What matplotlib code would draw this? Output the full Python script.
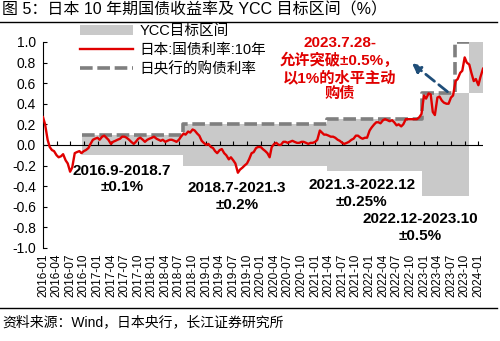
import pandas as pd
import matplotlib
matplotlib.use('Agg')
import matplotlib.pyplot as plt
from matplotlib.patches import Patch
from matplotlib.lines import Line2D

plt.rcParams['font.family'] = ['Liberation Sans', 'Noto Sans CJK SC']
plt.rcParams['axes.unicode_minus'] = False

# JGB 10y yield (%), readings on the 1st of each month
start_dates = pd.date_range('2016-01-01', '2024-02-01', freq='MS')
start_vals = [
    0.27, 0.05, -0.05, -0.10, -0.11, -0.15, -0.26, -0.08, -0.06, -0.06, -0.03, 0.05,
    0.07, 0.08, 0.07, 0.01, 0.04, 0.06, 0.08, 0.05, 0.01, 0.06, 0.05, 0.05,
    0.07, 0.06, 0.04, 0.03, 0.05, 0.04, 0.05, 0.11, 0.13, 0.15, 0.11, 0.04,
    0.00, -0.02, -0.06, -0.05, -0.08, -0.14, -0.15, -0.27, -0.22, -0.18, -0.08, -0.03,
    -0.02, -0.06, -0.12, 0.01, 0.00, 0.03, 0.02, 0.04, 0.02, 0.03, 0.02, 0.02,
    0.03, 0.14, 0.10, 0.09, 0.08, 0.05, 0.02, 0.02, 0.05, 0.09, 0.07, 0.07,
    0.14, 0.20, 0.22, 0.24, 0.24, 0.24, 0.19, 0.18, 0.25, 0.25, 0.25, 0.27,
    0.48, 0.50, 0.32, 0.46, 0.43, 0.40, 0.46, 0.62, 0.70, 0.85, 0.78, 0.62,
    0.58, 0.74,
]
# readings on the 15th of each month
mid_dates = pd.date_range('2016-01-01', '2024-01-01', freq='MS') + pd.Timedelta(days=14)
mid_vals = [
    0.20, -0.02, -0.06, -0.12, -0.09, -0.18, -0.22, -0.07, -0.08, -0.05, 0.01, 0.06,
    0.05, 0.09, 0.05, 0.03, 0.05, 0.08, 0.07, 0.03, 0.03, 0.07, 0.03, 0.06,
    0.08, 0.05, 0.05, 0.04, 0.05, 0.03, 0.08, 0.10, 0.12, 0.14, 0.09, 0.02,
    0.01, -0.03, -0.08, -0.04, -0.10, -0.12, -0.18, -0.24, -0.20, -0.14, -0.07, -0.02,
    -0.04, -0.08, -0.02, 0.02, 0.00, 0.03, 0.03, 0.03, 0.02, 0.03, 0.01, 0.02,
    0.05, 0.12, 0.10, 0.08, 0.07, 0.04, 0.01, 0.03, 0.06, 0.09, 0.06, 0.07,
    0.17, 0.22, 0.21, 0.25, 0.23, 0.22, 0.20, 0.20, 0.25, 0.25, 0.25, 0.30,
    0.45, 0.49, 0.29, 0.47, 0.41, 0.40, 0.48, 0.64, 0.72, 0.80, 0.70, 0.64,
    0.66,
]

# YCC target band
ycc_start = pd.to_datetime(['2016-09-21', '2018-07-31', '2021-03-19', '2022-12-20', '2023-10-31'])
ycc_end = pd.to_datetime(['2018-07-31', '2021-03-19', '2022-12-20', '2023-10-31', '2024-01-31'])
ycc_low = [-0.1, -0.2, -0.25, -0.5, 0.5]
ycc_high = [0.1, 0.2, 0.25, 0.5, 1.0]

# BOJ fixed-rate purchase level
boj_dates = pd.to_datetime(['2016-09-21', '2018-07-31', '2021-03-19', '2022-12-20', '2023-07-28', '2023-10-31'])
boj_rate = [0.1, 0.2, 0.25, 0.5, 1.0, 1.0]

tick_dates = pd.date_range('2016-01-01', '2024-01-01', freq='QS')

jgb = pd.concat([pd.Series(start_vals, index=start_dates),
                 pd.Series(mid_vals, index=mid_dates)]).sort_index()

fig = plt.figure(figsize=(5, 3.41), dpi=100)
ax = fig.add_axes([0.086, 0.273, 0.88, 0.604])

gray = '#c9c9c9'
for s, e, lo, hi in zip(ycc_start, ycc_end, ycc_low, ycc_high):
    ax.fill_between([s, e], lo, hi, color=gray, lw=0, zorder=1)

ax.step(boj_dates, boj_rate, where='post', color='#7f7f7f', lw=2.6,
        dashes=(3.5, 1.3), zorder=2)
ax.plot(jgb.index, jgb.values, color='#e00000', lw=1.7, zorder=3)

ax.axhline(0, color='black', lw=0.8, zorder=2)
ax.vlines(tick_dates, 0, 0.035, color='black', lw=0.8, zorder=2)

ax.set_xlim(pd.Timestamp('2016-01-01'), pd.Timestamp('2024-02-01'))
ax.set_ylim(-1, 1)
ax.set_yticks([-1.0, -0.8, -0.6, -0.4, -0.2, 0.0, 0.2, 0.4, 0.6, 0.8, 1.0])
ax.set_yticklabels(['%.1f' % v for v in ax.get_yticks()], fontsize=10)
ax.tick_params(axis='y', direction='in', length=3, width=0.8, pad=5)
ax.set_xticks(tick_dates)
ax.set_xticklabels([d.strftime('%Y-%m') for d in tick_dates], rotation=90, fontsize=8.5)
ax.tick_params(axis='x', length=0, pad=4)
for sp in ['top', 'right', 'bottom']:
    ax.spines[sp].set_visible(False)
ax.spines['left'].set_linewidth(0.8)

# range annotations
bold = dict(fontsize=11, fontweight='bold', ha='center', va='center', linespacing=1.25)
ax.text(pd.Timestamp('2017-06-13'), -0.33, '2016.9-2018.7\n±0.1%', **bold)
ax.text(pd.Timestamp('2019-07-25'), -0.50, '2018.7-2021.3\n±0.2%', **bold)
ax.text(pd.Timestamp('2021-11-10'), -0.47, '2021.3-2022.12\n±0.25%', **bold)
ax.text(pd.Timestamp('2022-12-04'), -0.80, '2022.12-2023.10\n±0.5%', **bold)
ax.text(pd.Timestamp('2021-06-15'), 0.74, '2023.7.28-\n允许突破±0.5%，\n以1%的水平主动\n购债',
        fontsize=11, fontweight='bold', color='#e00000', ha='center', va='center',
        linespacing=1.2)
ax.annotate('', xy=(pd.Timestamp('2022-09-28'), 0.81), xytext=(pd.Timestamp('2023-06-22'), 0.50),
            arrowprops=dict(arrowstyle='-|>', color='#1f4e79', lw=2, ls=(0, (4, 2)),
                            mutation_scale=13))

handles = [Patch(facecolor=gray, edgecolor='none'),
           Line2D([], [], color='#e00000', lw=1.7),
           Line2D([], [], color='#7f7f7f', lw=2.6, dashes=(3.5, 1.3))]
fig.legend(handles, ['YCC目标区间', '日本:国债利率:10年', '日央行的购债利率'],
           loc='upper left', bbox_to_anchor=(0.16, 0.93), frameon=False,
           fontsize=10.5, handlelength=3.6, handletextpad=0.5, labelspacing=0.35,
           borderpad=0, borderaxespad=0)

fig.text(0.004, 0.97, '图 5：日本 10 年期国债收益率及 YCC 目标区间（%）', fontsize=11.5,
         va='center', ha='left')
fig.add_artist(Line2D([0, 0.994], [0.935, 0.935], color='black', lw=1))
fig.add_artist(Line2D([0, 0.994], [0.097, 0.097], color='black', lw=1))
fig.text(0.004, 0.056, '资料来源：Wind，日本央行，长江证券研究所', fontsize=10,
         va='center', ha='left')

fig.savefig('out.png', dpi=100)
